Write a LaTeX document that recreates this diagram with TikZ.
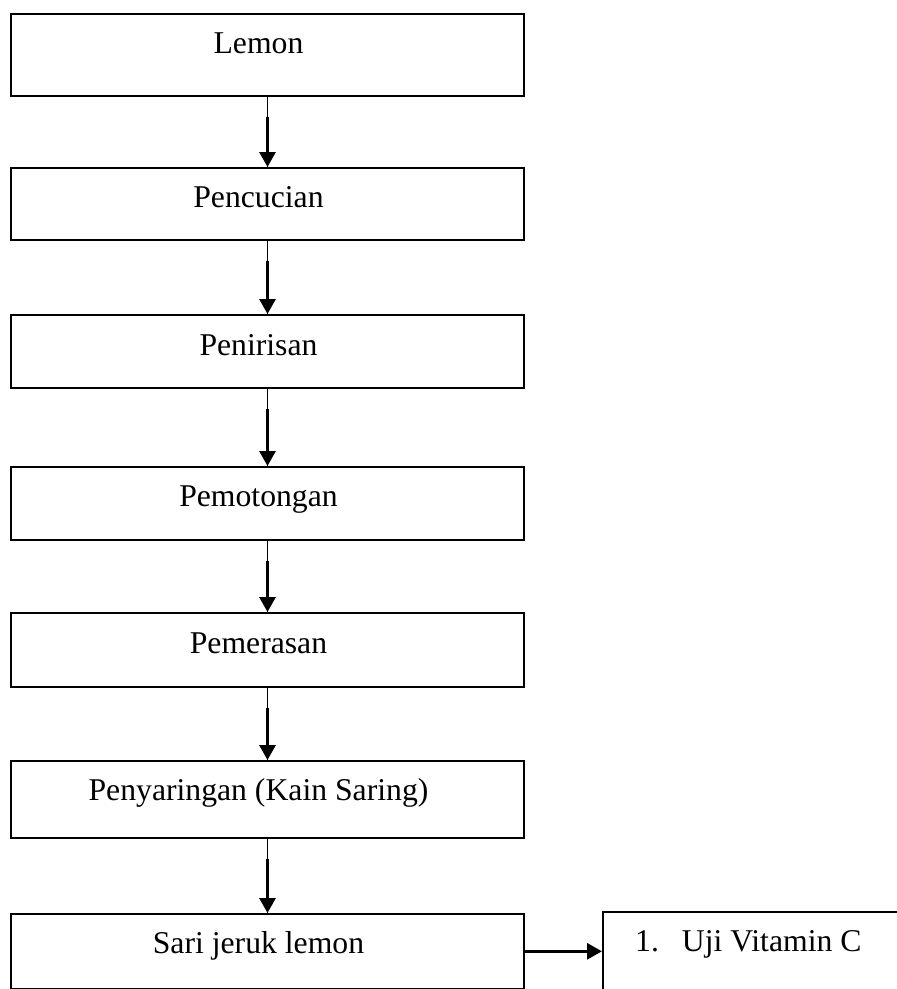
\documentclass[tikz,border=0pt]{standalone}
\usepackage{fontspec}
\setmainfont{Liberation Serif}
\usetikzlibrary{arrows.meta}
\tikzset{
  stepbox/.style={draw, line width=1.6pt, minimum width=513pt, minimum height=#1, anchor=north, inner sep=0pt},
  lbl/.style={anchor=base, inner sep=0pt, font=\fontsize{31.7}{38}\selectfont},
  thinline/.style={line width=1pt},
  thickarrow/.style={line width=3pt, -{Triangle[length=15pt,width=16pt]}},
}
\begin{document}
\begin{tikzpicture}[x=1pt,y=-1pt]
\useasboundingbox (0,0) rectangle (897,989);
\clip (0,0) rectangle (897,989);
\fill[white] (0,0) rectangle (897,989);
% boxes
\node[stepbox=82pt] (b1) at (267.5,13) {};
\node[stepbox=72pt] (b2) at (267.5,167) {};
\node[stepbox=73pt] (b3) at (267.5,314) {};
\node[stepbox=73pt] (b4) at (267.5,466) {};
\node[stepbox=74pt] (b5) at (267.5,612) {};
\node[stepbox=77pt] (b6) at (267.5,760) {};
\node[stepbox=75pt] (b7) at (267.5,913) {};
\node[draw, line width=1.6pt, anchor=north west, minimum width=360pt, minimum height=100pt, inner sep=0pt] (rb) at (602,911) {};
% labels
\node[lbl] (t1) at (258.5,53) {Lemon};
\node[lbl] (t2) at (258.5,207) {Pencucian};
\node[lbl] (t3) at (258.5,355) {Penirisan};
\node[lbl] (t4) at (258.5,506) {Pemotongan};
\node[lbl] (t5) at (258.5,653) {Pemerasan};
\node[lbl] (t6) at (258.5,800) {Penyaringan (Kain Saring)};
\node[lbl] (t7) at (258.5,953) {Sari jeruk lemon};
\node[lbl, anchor=base west] (t8) at (635,951) {1.\hspace{23pt}Uji Vitamin C};
% connectors
\foreach \a/\b in {b1/b2,b2/b3,b3/b4,b4/b5,b5/b6,b6/b7}{
  \draw[thinline] (\a.south) -- (\b.north);
  \draw[thickarrow, shorten <=20pt] (\a.south) -- (\b.north);
}
\draw[thickarrow] (b7.east) -- (b7.east -| rb.west);
\end{tikzpicture}
\end{document}
